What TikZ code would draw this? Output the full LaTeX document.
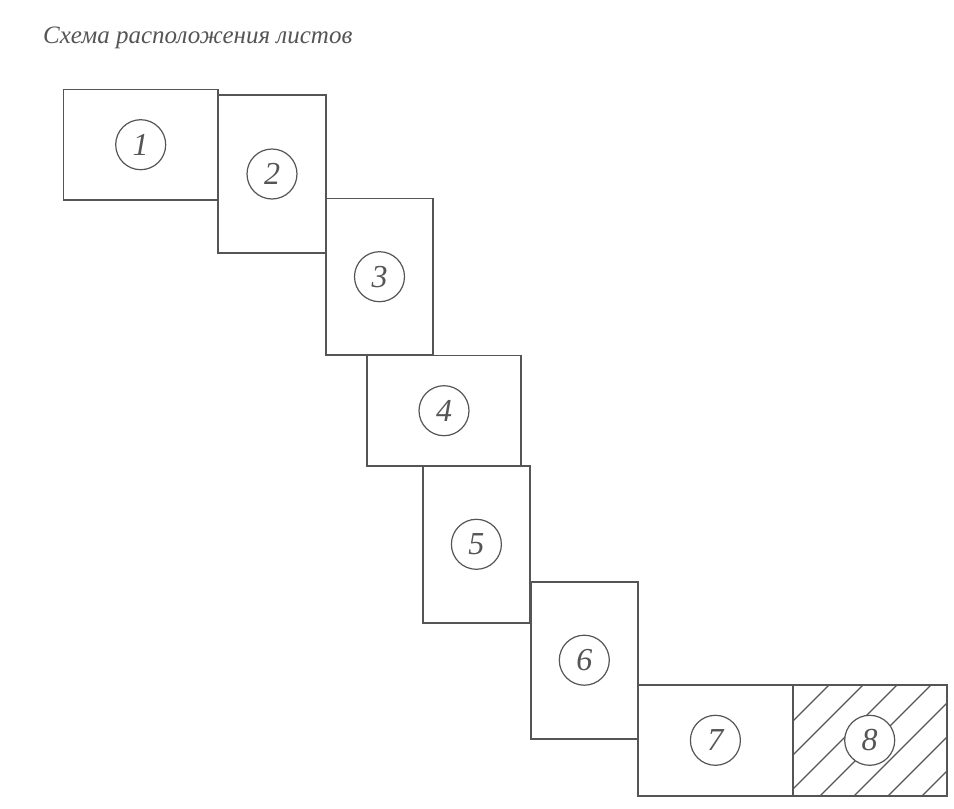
\documentclass[tikz,border=0pt]{standalone}
\usepackage{fontspec}
\setmainfont{Liberation Serif}
\definecolor{ink}{HTML}{555555}
\begin{document}
\begin{tikzpicture}[x=1pt,y=-1pt,
  sheet/.style={draw=ink, line width=1.7pt, rectangle, inner sep=0pt},
  num/.style={draw=ink, line width=1.2pt, circle, minimum size=50pt, inner sep=0pt,
    text=ink, font=\fontsize{32}{34}\selectfont\itshape},
  hatch/.style={draw=ink, line width=1.3pt}]
\useasboundingbox (0,0) rectangle (954,809);
\node[anchor=base west, text=ink, inner sep=0pt, font=\fontsize{25}{28}\selectfont\itshape] (title) at (43,43) {Схема расположения листов};
% sheets
\node[sheet, minimum width=154.7pt, minimum height=110.7pt] (s1) at (140.7,144.7) {};
\node[sheet, minimum width=108pt, minimum height=157.4pt] (s2) at (272,174) {};
\node[sheet, minimum width=107.6pt, minimum height=156.7pt] (s3) at (379.5,276.7) {};
\node[sheet, minimum width=154pt, minimum height=110.7pt] (s4) at (444,410.7) {};
\node[sheet, minimum width=107.3pt, minimum height=156.7pt] (s5) at (476.4,544.3) {};
\node[sheet, minimum width=107.3pt, minimum height=157pt] (s6) at (584.3,660.2) {};
\node[sheet, minimum width=154.7pt, minimum height=110.7pt] (s7) at (715.4,740.3) {};
% hatching of sheet 8
\begin{scope}
  \clip (792.7,685) rectangle (946.7,795.7);
  \foreach \c in {1514,1548,1582,1616,1650,1684,1718}
    \draw[hatch] (\c-800,800) -- (\c-680,680);
\end{scope}
\node[sheet, minimum width=154pt, minimum height=110.7pt] (s8) at (869.7,740.3) {};
% numbers
\node[num, fill=white] (n1) at (s1) {1};
\node[num, fill=white] (n2) at (s2) {2};
\node[num, fill=white] (n3) at (s3) {3};
\node[num, fill=white] (n4) at (s4) {4};
\node[num, fill=white] (n5) at (s5) {5};
\node[num, fill=white] (n6) at (s6) {6};
\node[num, fill=white] (n7) at (s7) {7};
\node[num, fill=white] (n8) at (s8) {8};
\end{tikzpicture}
\end{document}
